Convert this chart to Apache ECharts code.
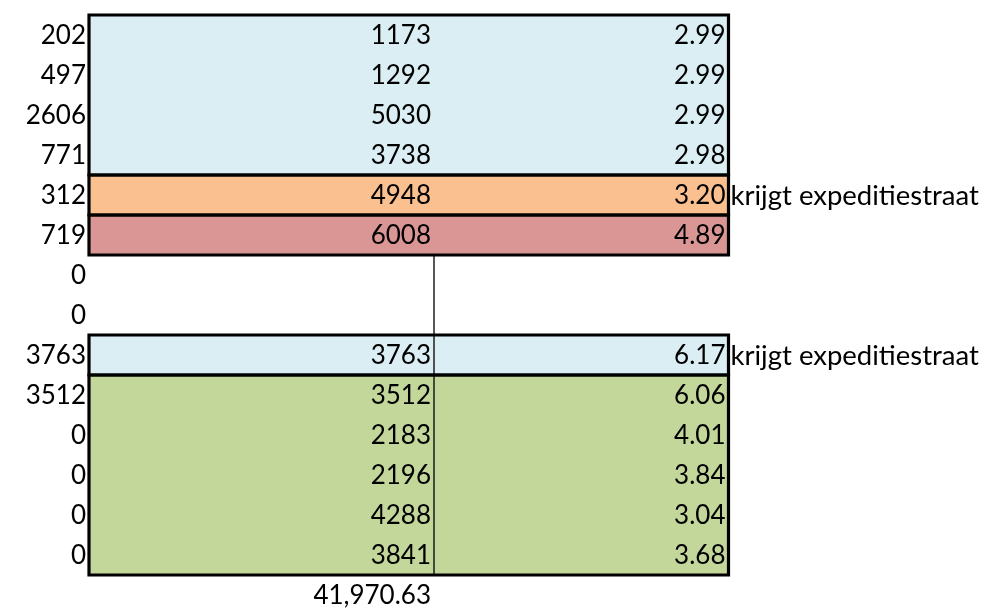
<!DOCTYPE html>
<html><head><meta charset="utf-8">
<script src="https://cdn.jsdelivr.net/npm/echarts@6/dist/echarts.min.js"></script>
<style>html,body{margin:0;padding:0;background:#fff}#c{width:990px;height:616px}</style>
</head><body><div id="c"></div>
<script>
// ---- data (read from the sheet) ----
const rowLabels = ['1','2','3','4','5','6','7','8','9','10','11','12','13','14','15'];
const colA = [202, 497, 2606, 771, 312, 719, 0, 0, 3763, 3512, 0, 0, 0, 0, null];
const colB = [1173, 1292, 5030, 3738, 4948, 6008, null, null, 3763, 3512, 2183, 2196, 4288, 3841, 41970.63];
const colC = [2.99, 2.99, 2.99, 2.98, 3.20, 4.89, null, null, 6.17, 6.06, 4.01, 3.84, 3.04, 3.68, null];
const notes = ['', '', '', '', 'krijgt expeditiestraat', '', '', '', 'krijgt expeditiestraat', '', '', '', '', '', ''];
// coloured blocks: [firstRow, lastRow, fillKey]
const blocks = [[0, 3, 'blue'], [4, 4, 'orange'], [5, 5, 'red'], [8, 8, 'blue'], [9, 13, 'green']];
// thin border on the right of column B: [firstRow, lastRow]
const thinBorder = [[6, 13]];

// ---- layout / style ----
const edges = [0, 89, 434, 728.5, 990]; // column boundaries (x-axis units = px)
const pad = 3;
const fills = { blue: '#DAEEF3', orange: '#FAC090', red: '#DA9694', green: '#C4D79B' };
const font = '26px Lato';
const noteFont = '27.5px Lato';

function fmtB(v, i) {
  if (v == null) return '';
  if (i === 14) return v.toLocaleString('en-US', { minimumFractionDigits: 2, maximumFractionDigits: 2 });
  return String(v);
}
function fmtC(v) { return v == null ? '' : v.toFixed(2); }

const chart = echarts.init(document.getElementById('c'), null, { renderer: 'canvas' });

function rowSpan(api, r0, r1) {
  const h = api.size([0, 1])[1];
  const top = api.coord([0, r0])[1] - h / 2;
  const bottom = api.coord([0, r1])[1] + h / 2;
  return [top, bottom];
}

chart.setOption({
  animation: false,
  grid: { left: 0, right: 0, top: 15, height: 600 },
  xAxis: { type: 'value', min: 0, max: 990, show: false },
  yAxis: { type: 'category', data: rowLabels, inverse: true, show: false },
  series: [
    {
      type: 'custom', name: 'fills', z: 1,
      data: blocks.map(b => [b[0], b[1]]),
      renderItem: function (params, api) {
        const b = blocks[params.dataIndex];
        const [t, bt] = rowSpan(api, b[0], b[1]);
        const x0 = api.coord([edges[1], 0])[0], x1 = api.coord([edges[3], 0])[0];
        return { type: 'rect', shape: { x: x0, y: t, width: x1 - x0, height: bt - t },
          style: { fill: fills[b[2]], stroke: null } };
      }
    },
    {
      type: 'custom', name: 'thin', z: 2,
      data: thinBorder.map(b => [b[0], b[1]]),
      renderItem: function (params, api) {
        const b = thinBorder[params.dataIndex];
        const [t, bt] = rowSpan(api, b[0], b[1]);
        const x = api.coord([edges[2], 0])[0];
        return { type: 'line', shape: { x1: x, y1: t, x2: x, y2: bt },
          style: { stroke: '#111', lineWidth: 1.4 } };
      }
    },
    {
      type: 'custom', name: 'borders', z: 3,
      data: blocks.map(b => [b[0], b[1]]),
      renderItem: function (params, api) {
        const b = blocks[params.dataIndex];
        const [t, bt] = rowSpan(api, b[0], b[1]);
        const x0 = api.coord([edges[1], 0])[0], x1 = api.coord([edges[3], 0])[0];
        return { type: 'rect', shape: { x: x0, y: t, width: x1 - x0, height: bt - t },
          style: { fill: null, stroke: '#000', lineWidth: 3.2 } };
      }
    },
    {
      type: 'custom', name: 'text', z: 4,
      data: rowLabels.map((_, i) => [0, i]),
      renderItem: function (params, api) {
        const i = params.dataIndex;
        const y = api.coord([0, i])[1] + 1;
        const xA = api.coord([edges[1], 0])[0] - pad;
        const xB = api.coord([edges[2], 0])[0] - pad;
        const xC = api.coord([edges[3], 0])[0] - pad;
        const xD = api.coord([edges[3], 0])[0] + 2;
        const mk = (x, txt, align, f) => ({ type: 'text', x: x, y: y,
          style: { text: txt, font: f || font, fill: '#000', align: align, verticalAlign: 'middle' } });
        return { type: 'group', children: [
          mk(xA, colA[i] == null ? '' : String(colA[i]), 'right'),
          mk(xB, fmtB(colB[i], i), 'right'),
          mk(xC, fmtC(colC[i]), 'right'),
          mk(xD, notes[i], 'left', noteFont)
        ] };
      }
    }
  ]
});
</script></body></html>
